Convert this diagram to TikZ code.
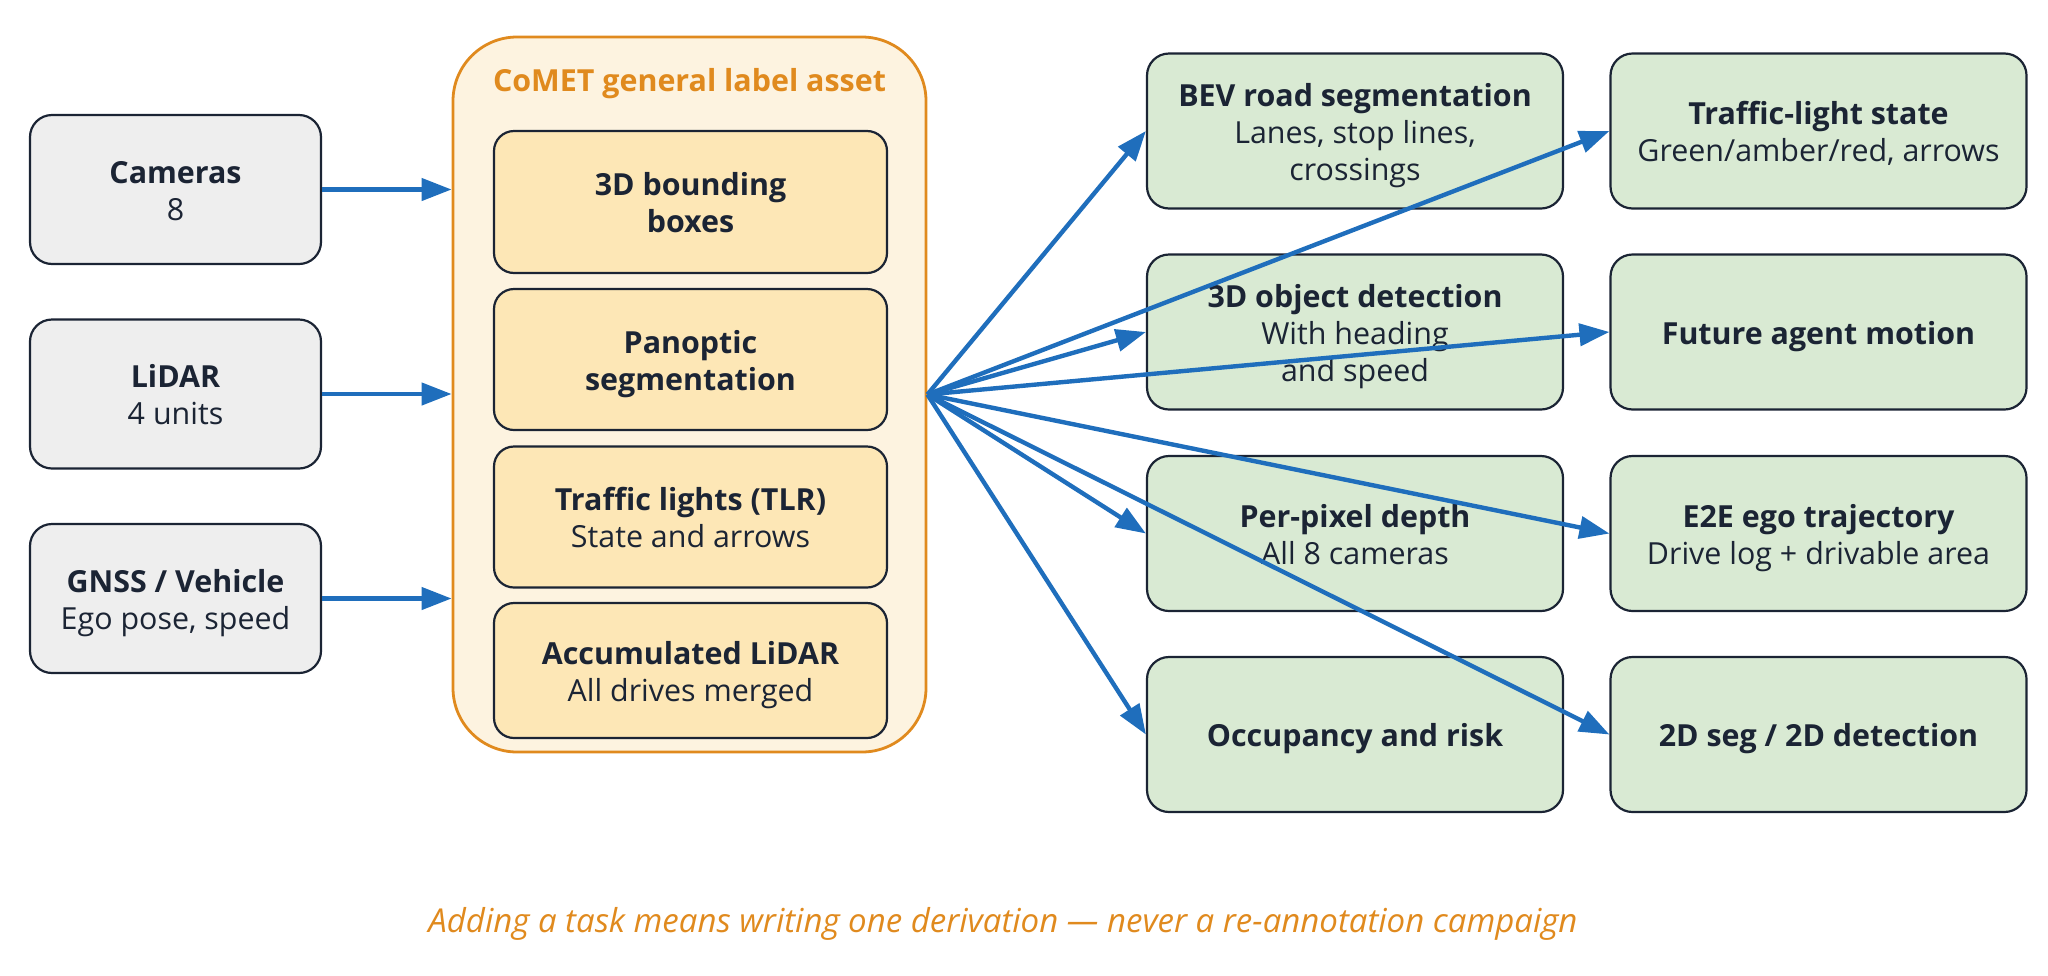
\documentclass[tikz,border=0pt]{standalone}
\usepackage{fontspec}
\setmainfont{Open Sans}
\usetikzlibrary{arrows.meta}
\definecolor{ink}{HTML}{1B2434}
\definecolor{orng}{HTML}{E08A1E}
\definecolor{blu}{HTML}{1F6EBC}
\definecolor{grayfill}{HTML}{EEEEEE}
\definecolor{contfill}{HTML}{FDF3E0}
\definecolor{innerfill}{HTML}{FDE7B6}
\definecolor{greenfill}{HTML}{D9EAD3}
\newcommand\ts{\rule{0pt}{16pt}}
\newcommand\bs{\rule[-4pt]{0pt}{4pt}}
\begin{document}
\begin{tikzpicture}[x=0.5pt,y=-0.5pt,
  box/.style={draw=ink, line width=1.1pt, rounded corners=11pt, align=center, text=ink,
    font=\fontsize{15.2}{18.5}\selectfont, inner sep=0pt},
  inbox/.style={box, fill=grayfill, minimum width=145.5pt, minimum height=74.5pt},
  labbox/.style={box, fill=innerfill, rounded corners=10pt, minimum width=196.5pt, minimum height=70.5pt},
  taskbox/.style={box, fill=greenfill, minimum width=208pt, minimum height=77.5pt},
  conn/.style={draw=blu, line width=2.2pt, -{Triangle[length=15pt,width=11pt]}}]
\useasboundingbox (0,0) rectangle (2048,975);

% inputs
\node[inbox] (cam) at (175.5,189.5) {\ts\textbf{Cameras}\\8\bs};
\node[inbox] (lidar) at (175.5,394) {\ts\textbf{LiDAR}\\4 units\bs};
\node[inbox] (gnss) at (175.5,598.5) {\ts\textbf{GNSS / Vehicle}\\Ego pose, speed\bs};

% container
\node[draw=orng, line width=1.4pt, fill=contfill, rounded corners=32pt,
  minimum width=236.5pt, minimum height=357.5pt, inner sep=0pt] (asset) at (689.5,394.5) {};
\node[anchor=base, text=orng, font=\bfseries\fontsize{15.2}{18.5}\selectfont, inner sep=0pt]
  (title) at (689.5,91) {CoMET general label asset};

\node[labbox, minimum height=71pt] (bb) at (690.5,202) {\ts\textbf{3D bounding}\\\textbf{boxes}\bs};
\node[labbox] (pan) at (690.5,359.5) {\ts\textbf{Panoptic}\\\textbf{segmentation}\bs};
\node[labbox] (tlr) at (690.5,517) {\ts\textbf{Traffic lights (TLR)}\\State and arrows\bs};
\node[labbox, minimum height=67.5pt] (acc) at (690.5,670.5) {\ts\textbf{Accumulated LiDAR}\\All drives merged\bs};

% tasks
\node[taskbox] (bev) at (1355,131) {\ts\textbf{BEV road segmentation}\\Lanes, stop lines,\\crossings\bs};
\node[taskbox] (obj) at (1355,332) {\ts\textbf{3D object detection}\\With heading\\and speed\bs};
\node[taskbox] (depth) at (1355,533.5) {\ts\textbf{Per-pixel depth}\\All 8 cameras\bs};
\node[taskbox] (occ) at (1355,734.5) {\ts\textbf{Occupancy and risk}\bs};
\node[taskbox] (tls) at (1818.5,131) {\ts\textbf{Traffic-light state}\\Green/amber/red, arrows\bs};
\node[taskbox] (fut) at (1818.5,332) {\ts\textbf{Future agent motion}\bs};
\node[taskbox] (e2e) at (1818.5,533.5) {\ts\textbf{E2E ego trajectory}\\Drive log + drivable area\bs};
\node[taskbox] (seg) at (1818.5,734.5) {\ts\textbf{2D seg / 2D detection}\bs};

% caption
\node[anchor=base, text=orng, font=\itshape\fontsize{16.5}{18.5}\selectfont, inner sep=0pt]
  (cap) at (1003,932) {Adding a task means writing one derivation — never a re-annotation campaign};

% connectors
\draw[conn] (cam.east) -- (cam.east -| asset.west);
\draw[conn] (lidar.east) -- (lidar.east -| asset.west);
\draw[conn] (gnss.east) -- (gnss.east -| asset.west);

\coordinate (hub) at (asset.east);
\foreach \t in {bev,obj,depth,occ,tls,fut,e2e,seg}
  \draw[conn] (hub) -- (\t.west);
\end{tikzpicture}
\end{document}
